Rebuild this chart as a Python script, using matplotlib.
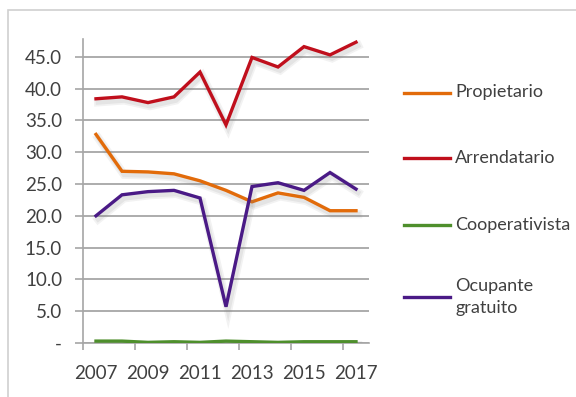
import matplotlib
matplotlib.use("Agg")
import matplotlib.pyplot as plt
import matplotlib.patheffects as pe
from matplotlib.lines import Line2D
from matplotlib.patches import Rectangle
from matplotlib.ticker import FixedLocator, FuncFormatter

plt.rcParams['font.family'] = ['Lato', 'DejaVu Sans']

years = [2007, 2008, 2009, 2010, 2011, 2012, 2013, 2014, 2015, 2016, 2017]
propietario = [32.8, 27.0, 26.9, 26.6, 25.5, 24.0, 22.2, 23.6, 22.9, 20.8, 20.8]
arrendatario = [38.4, 38.7, 37.8, 38.7, 42.6, 34.3, 44.9, 43.4, 46.6, 45.3, 47.3]
cooperativista = [0.3, 0.3, 0.1, 0.2, 0.1, 0.3, 0.2, 0.1, 0.2, 0.2, 0.2]
ocupante = [20.0, 23.3, 23.8, 24.0, 22.8, 5.7, 24.6, 25.2, 24.0, 26.8, 24.2]

series = [
    ("Propietario", propietario, "#E26B0A"),
    ("Arrendatario", arrendatario, "#C00F1C"),
    ("Cooperativista", cooperativista, "#4E8F2C"),
    ("Ocupante\ngratuito", ocupante, "#4A1A86"),
]
y_ticks = [0, 5, 10, 15, 20, 25, 30, 35, 40, 45]

W, H = 576, 397
fig = plt.figure(figsize=(W / 100, H / 100), dpi=100)
fig.patch.set_facecolor("white")

# outer chart frame
fig.add_artist(Rectangle((8 / W, -0.1), 1.2, 1 - 10 / H + 0.1, transform=fig.transFigure,
                         fill=False, edgecolor="#D0D0D0", linewidth=1.2))

ax = fig.add_axes([83 / W, 1 - 343 / H, 286 / W, (343 - 39) / H])
x = list(range(len(years)))

shadow = [pe.SimpleLineShadow(offset=(1.5, -2.5), shadow_color="#808080", alpha=0.10, linewidth=6),
          pe.SimpleLineShadow(offset=(1.5, -2.5), shadow_color="#808080", alpha=0.12, linewidth=3.5),
          pe.Normal()]

for label, vals, color in series:
    ax.plot(x, vals, color=color, linewidth=2.4, solid_joinstyle="miter", zorder=3,
            path_effects=shadow)

ax.set_xlim(-0.5, len(years) - 0.5)
ax.set_ylim(0, 47.8)

ax.yaxis.set_major_locator(FixedLocator(y_ticks))
ax.yaxis.set_major_formatter(FuncFormatter(lambda v, p: "-" if v == 0 else f"{v:.1f}"))
ax.grid(axis="y", color="#A6A6A6", linewidth=1.3, zorder=1)
ax.tick_params(axis="y", length=6, width=1.2, color="#A6A6A6", pad=9,
               labelsize=13.5, labelcolor="#404040")

ax.xaxis.set_major_locator(FixedLocator(x[::2]))
ax.set_xticklabels([str(y) for y in years[::2]])
ax.xaxis.set_minor_locator(FixedLocator([i - 0.5 for i in range(0, len(years), 2)]))
ax.tick_params(axis="x", which="major", length=0, pad=16, labelsize=13.5, labelcolor="#404040")
ax.tick_params(axis="x", which="minor", length=5, width=1.2, color="#A6A6A6")

for s in ("top", "right"):
    ax.spines[s].set_visible(False)
ax.spines["left"].set_color("#A6A6A6")
ax.spines["left"].set_linewidth(1.2)
ax.spines["bottom"].set_color("#A6A6A6")
ax.spines["bottom"].set_linewidth(1.2)
ax.set_axisbelow(True)

# legend
legend_y = [92.5, 158, 225, 297]
for (label, vals, color), ly in zip(series, legend_y):
    fig.add_artist(Line2D([404 / W, 450 / W], [1 - ly / H, 1 - ly / H], transform=fig.transFigure,
                          color=color, linewidth=2.4))
    fig.text(455 / W, 1 - ly / H, label, fontsize=13, color="#404040", va="center", ha="left",
             linespacing=1.5)

fig.savefig("out.png", dpi=100)
